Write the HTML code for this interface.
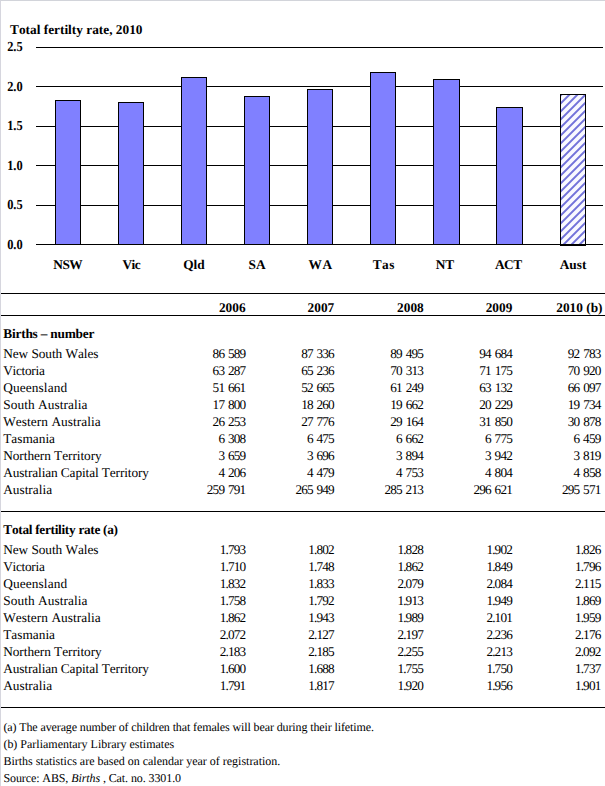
<!DOCTYPE html>
<html><head><meta charset="utf-8"><title>Total fertility rate, 2010</title>
<style>
html,body{margin:0;padding:0;background:#fff;}
body{width:605px;height:786px;position:relative;overflow:hidden;font-family:"Liberation Serif", "Times New Roman", serif;color:#000;}
.frame{position:absolute;left:0;top:0;width:605px;height:786px;box-sizing:border-box;border-top:1px solid #d2d4da;border-left:1px solid #d6d6de;}
.t{position:absolute;white-space:nowrap;color:#000;font-kerning:none;text-rendering:geometricPrecision;}
.r{position:absolute;}
.bar{position:absolute;box-sizing:border-box;border:1px solid #000;background:#8080ff;}
</style></head>
<body>
<div class="frame"></div>
<div class="t" style="top:22.54px;font-size:13.33px;line-height:13.33px;font-weight:bold;left:10.00px;">Total fertilty rate, 2010</div>
<div class="r" style="left:36px;top:47px;width:567px;height:1px;background:#000"></div>
<div class="t" style="top:40.14px;font-size:13.33px;line-height:13.33px;font-weight:bold;right:582.00px;text-align:right;transform:scale(0.93,1.04);transform-origin:100% 50%;">2.5</div>
<div class="r" style="left:36px;top:86px;width:567px;height:1px;background:#000"></div>
<div class="t" style="top:80.14px;font-size:13.33px;line-height:13.33px;font-weight:bold;right:582.00px;text-align:right;transform:scale(0.93,1.04);transform-origin:100% 50%;">2.0</div>
<div class="r" style="left:36px;top:126px;width:567px;height:1px;background:#000"></div>
<div class="t" style="top:119.14px;font-size:13.33px;line-height:13.33px;font-weight:bold;right:582.00px;text-align:right;transform:scale(0.93,1.04);transform-origin:100% 50%;">1.5</div>
<div class="r" style="left:36px;top:165px;width:567px;height:1px;background:#000"></div>
<div class="t" style="top:159.14px;font-size:13.33px;line-height:13.33px;font-weight:bold;right:582.00px;text-align:right;transform:scale(0.93,1.04);transform-origin:100% 50%;">1.0</div>
<div class="r" style="left:36px;top:205px;width:567px;height:1px;background:#000"></div>
<div class="t" style="top:198.14px;font-size:13.33px;line-height:13.33px;font-weight:bold;right:582.00px;text-align:right;transform:scale(0.93,1.04);transform-origin:100% 50%;">0.5</div>
<div class="r" style="left:36px;top:244px;width:567px;height:1px;background:#000"></div>
<div class="t" style="top:238.14px;font-size:13.33px;line-height:13.33px;font-weight:bold;right:582.00px;text-align:right;transform:scale(0.93,1.04);transform-origin:100% 50%;">0.0</div>
<div class="bar" style="left:55px;top:100px;width:26px;height:145px"></div>
<div class="t" style="top:258.14px;font-size:13.33px;line-height:13.33px;font-weight:bold;letter-spacing:-0.500px;left:17.75px;width:100px;text-align:center;">NSW</div>
<div class="bar" style="left:118px;top:102px;width:26px;height:143px"></div>
<div class="t" style="top:258.14px;font-size:13.33px;line-height:13.33px;font-weight:bold;letter-spacing:-0.500px;left:81.25px;width:100px;text-align:center;">Vic</div>
<div class="bar" style="left:181px;top:77px;width:26px;height:168px"></div>
<div class="t" style="top:258.14px;font-size:13.33px;line-height:13.33px;font-weight:bold;left:144.00px;width:100px;text-align:center;">Qld</div>
<div class="bar" style="left:244px;top:96px;width:26px;height:149px"></div>
<div class="t" style="top:258.14px;font-size:13.33px;line-height:13.33px;font-weight:bold;left:207.00px;width:100px;text-align:center;">SA</div>
<div class="bar" style="left:307px;top:89px;width:26px;height:156px"></div>
<div class="t" style="top:258.14px;font-size:13.33px;line-height:13.33px;font-weight:bold;letter-spacing:0.500px;left:270.55px;width:100px;text-align:center;">WA</div>
<div class="bar" style="left:370px;top:72px;width:26px;height:173px"></div>
<div class="t" style="top:258.14px;font-size:13.33px;line-height:13.33px;font-weight:bold;letter-spacing:0.500px;left:333.85px;width:100px;text-align:center;">Tas</div>
<div class="bar" style="left:433px;top:79px;width:27px;height:166px"></div>
<div class="t" style="top:258.14px;font-size:13.33px;line-height:13.33px;font-weight:bold;left:395.00px;width:100px;text-align:center;">NT</div>
<div class="bar" style="left:496px;top:107px;width:27px;height:138px"></div>
<div class="t" style="top:258.14px;font-size:13.33px;line-height:13.33px;font-weight:bold;letter-spacing:-0.500px;left:458.25px;width:100px;text-align:center;">ACT</div>
<svg class="r" style="left:560px;top:94px" width="26" height="152" viewBox="0 0 26 152"><defs><pattern id="hp" patternUnits="userSpaceOnUse" width="8" height="8"><rect width="8" height="8" fill="#f9f9ff"/><path d="M-2.90,-3L-3,-2.90M5.10,-3L-3,5.10M13.10,-3L-3,13.10M21.10,-3L-3,21.10" stroke="#7373da" stroke-width="1.95" fill="none"/></pattern></defs><rect x="0" y="0" width="26" height="152" fill="url(#hp)"/><rect x="0.5" y="0.5" width="25" height="151" fill="none" stroke="#000" stroke-width="1"/><rect x="0" y="150" width="26" height="2" fill="#000"/></svg>
<div class="t" style="top:258.14px;font-size:13.33px;line-height:13.33px;font-weight:bold;left:523.00px;width:100px;text-align:center;">Aust</div>
<div class="r" style="left:1px;top:293px;width:604px;height:1px;background:#000"></div>
<div class="t" style="top:300.64px;font-size:13.33px;line-height:13.33px;font-weight:bold;right:359.40px;text-align:right;">2006</div>
<div class="t" style="top:300.64px;font-size:13.33px;line-height:13.33px;font-weight:bold;right:270.80px;text-align:right;">2007</div>
<div class="t" style="top:300.64px;font-size:13.33px;line-height:13.33px;font-weight:bold;right:181.30px;text-align:right;">2008</div>
<div class="t" style="top:300.64px;font-size:13.33px;line-height:13.33px;font-weight:bold;right:92.70px;text-align:right;">2009</div>
<div class="t" style="top:300.64px;font-size:13.33px;line-height:13.33px;font-weight:bold;right:2.50px;text-align:right;">2010 (b)</div>
<div class="r" style="left:1px;top:315px;width:604px;height:1px;background:#000"></div>
<div class="t" style="top:326.84px;font-size:13.33px;line-height:13.33px;font-weight:bold;letter-spacing:-0.214px;left:3.30px;">Births &ndash; number</div>
<div class="t" style="top:346.84px;font-size:13.33px;line-height:13.33px;letter-spacing:-0.071px;left:3.20px;">New South Wales</div>
<div class="t" style="top:346.90px;font-size:13.25px;line-height:13.25px;letter-spacing:-0.850px;right:359.75px;text-align:right;text-rendering:geometricPrecision;word-spacing:1.3px;">86 589</div>
<div class="t" style="top:346.90px;font-size:13.25px;line-height:13.25px;letter-spacing:-0.850px;right:271.15px;text-align:right;text-rendering:geometricPrecision;word-spacing:1.3px;">87 336</div>
<div class="t" style="top:346.90px;font-size:13.25px;line-height:13.25px;letter-spacing:-0.850px;right:182.05px;text-align:right;text-rendering:geometricPrecision;word-spacing:1.3px;">89 495</div>
<div class="t" style="top:346.90px;font-size:13.25px;line-height:13.25px;letter-spacing:-0.850px;right:93.05px;text-align:right;text-rendering:geometricPrecision;word-spacing:1.3px;">94 684</div>
<div class="t" style="top:346.90px;font-size:13.25px;line-height:13.25px;letter-spacing:-0.850px;right:4.55px;text-align:right;text-rendering:geometricPrecision;word-spacing:1.3px;">92 783</div>
<div class="t" style="top:363.84px;font-size:13.33px;line-height:13.33px;letter-spacing:-0.286px;left:3.20px;">Victoria</div>
<div class="t" style="top:363.90px;font-size:13.25px;line-height:13.25px;letter-spacing:-0.850px;right:359.75px;text-align:right;text-rendering:geometricPrecision;word-spacing:1.3px;">63 287</div>
<div class="t" style="top:363.90px;font-size:13.25px;line-height:13.25px;letter-spacing:-0.850px;right:271.15px;text-align:right;text-rendering:geometricPrecision;word-spacing:1.3px;">65 236</div>
<div class="t" style="top:363.90px;font-size:13.25px;line-height:13.25px;letter-spacing:-0.850px;right:182.05px;text-align:right;text-rendering:geometricPrecision;word-spacing:1.3px;">70 313</div>
<div class="t" style="top:363.90px;font-size:13.25px;line-height:13.25px;letter-spacing:-0.850px;right:93.05px;text-align:right;text-rendering:geometricPrecision;word-spacing:1.3px;">71 175</div>
<div class="t" style="top:363.90px;font-size:13.25px;line-height:13.25px;letter-spacing:-0.850px;right:4.55px;text-align:right;text-rendering:geometricPrecision;word-spacing:1.3px;">70 920</div>
<div class="t" style="top:380.84px;font-size:13.33px;line-height:13.33px;letter-spacing:0.111px;left:3.20px;">Queensland</div>
<div class="t" style="top:380.90px;font-size:13.25px;line-height:13.25px;letter-spacing:-0.850px;right:359.75px;text-align:right;text-rendering:geometricPrecision;word-spacing:1.3px;">51 661</div>
<div class="t" style="top:380.90px;font-size:13.25px;line-height:13.25px;letter-spacing:-0.850px;right:271.15px;text-align:right;text-rendering:geometricPrecision;word-spacing:1.3px;">52 665</div>
<div class="t" style="top:380.90px;font-size:13.25px;line-height:13.25px;letter-spacing:-0.850px;right:182.05px;text-align:right;text-rendering:geometricPrecision;word-spacing:1.3px;">61 249</div>
<div class="t" style="top:380.90px;font-size:13.25px;line-height:13.25px;letter-spacing:-0.850px;right:93.05px;text-align:right;text-rendering:geometricPrecision;word-spacing:1.3px;">63 132</div>
<div class="t" style="top:380.90px;font-size:13.25px;line-height:13.25px;letter-spacing:-0.850px;right:4.55px;text-align:right;text-rendering:geometricPrecision;word-spacing:1.3px;">66 097</div>
<div class="t" style="top:397.84px;font-size:13.33px;line-height:13.33px;letter-spacing:0.071px;left:3.20px;">South Australia</div>
<div class="t" style="top:397.90px;font-size:13.25px;line-height:13.25px;letter-spacing:-0.850px;right:359.75px;text-align:right;text-rendering:geometricPrecision;word-spacing:1.3px;">17 800</div>
<div class="t" style="top:397.90px;font-size:13.25px;line-height:13.25px;letter-spacing:-0.850px;right:271.15px;text-align:right;text-rendering:geometricPrecision;word-spacing:1.3px;">18 260</div>
<div class="t" style="top:397.90px;font-size:13.25px;line-height:13.25px;letter-spacing:-0.850px;right:182.05px;text-align:right;text-rendering:geometricPrecision;word-spacing:1.3px;">19 662</div>
<div class="t" style="top:397.90px;font-size:13.25px;line-height:13.25px;letter-spacing:-0.850px;right:93.05px;text-align:right;text-rendering:geometricPrecision;word-spacing:1.3px;">20 229</div>
<div class="t" style="top:397.90px;font-size:13.25px;line-height:13.25px;letter-spacing:-0.850px;right:4.55px;text-align:right;text-rendering:geometricPrecision;word-spacing:1.3px;">19 734</div>
<div class="t" style="top:414.84px;font-size:13.33px;line-height:13.33px;letter-spacing:0.063px;left:3.20px;">Western Australia</div>
<div class="t" style="top:414.90px;font-size:13.25px;line-height:13.25px;letter-spacing:-0.850px;right:359.75px;text-align:right;text-rendering:geometricPrecision;word-spacing:1.3px;">26 253</div>
<div class="t" style="top:414.90px;font-size:13.25px;line-height:13.25px;letter-spacing:-0.850px;right:271.15px;text-align:right;text-rendering:geometricPrecision;word-spacing:1.3px;">27 776</div>
<div class="t" style="top:414.90px;font-size:13.25px;line-height:13.25px;letter-spacing:-0.850px;right:182.05px;text-align:right;text-rendering:geometricPrecision;word-spacing:1.3px;">29 164</div>
<div class="t" style="top:414.90px;font-size:13.25px;line-height:13.25px;letter-spacing:-0.850px;right:93.05px;text-align:right;text-rendering:geometricPrecision;word-spacing:1.3px;">31 850</div>
<div class="t" style="top:414.90px;font-size:13.25px;line-height:13.25px;letter-spacing:-0.850px;right:4.55px;text-align:right;text-rendering:geometricPrecision;word-spacing:1.3px;">30 878</div>
<div class="t" style="top:431.84px;font-size:13.33px;line-height:13.33px;left:3.20px;">Tasmania</div>
<div class="t" style="top:431.90px;font-size:13.25px;line-height:13.25px;letter-spacing:-0.850px;right:359.75px;text-align:right;text-rendering:geometricPrecision;word-spacing:1.3px;">6 308</div>
<div class="t" style="top:431.90px;font-size:13.25px;line-height:13.25px;letter-spacing:-0.850px;right:271.15px;text-align:right;text-rendering:geometricPrecision;word-spacing:1.3px;">6 475</div>
<div class="t" style="top:431.90px;font-size:13.25px;line-height:13.25px;letter-spacing:-0.850px;right:182.05px;text-align:right;text-rendering:geometricPrecision;word-spacing:1.3px;">6 662</div>
<div class="t" style="top:431.90px;font-size:13.25px;line-height:13.25px;letter-spacing:-0.850px;right:93.05px;text-align:right;text-rendering:geometricPrecision;word-spacing:1.3px;">6 775</div>
<div class="t" style="top:431.90px;font-size:13.25px;line-height:13.25px;letter-spacing:-0.850px;right:4.55px;text-align:right;text-rendering:geometricPrecision;word-spacing:1.3px;">6 459</div>
<div class="t" style="top:448.84px;font-size:13.33px;line-height:13.33px;letter-spacing:-0.059px;left:3.20px;">Northern Territory</div>
<div class="t" style="top:448.90px;font-size:13.25px;line-height:13.25px;letter-spacing:-0.850px;right:359.75px;text-align:right;text-rendering:geometricPrecision;word-spacing:1.3px;">3 659</div>
<div class="t" style="top:448.90px;font-size:13.25px;line-height:13.25px;letter-spacing:-0.850px;right:271.15px;text-align:right;text-rendering:geometricPrecision;word-spacing:1.3px;">3 696</div>
<div class="t" style="top:448.90px;font-size:13.25px;line-height:13.25px;letter-spacing:-0.850px;right:182.05px;text-align:right;text-rendering:geometricPrecision;word-spacing:1.3px;">3 894</div>
<div class="t" style="top:448.90px;font-size:13.25px;line-height:13.25px;letter-spacing:-0.850px;right:93.05px;text-align:right;text-rendering:geometricPrecision;word-spacing:1.3px;">3 942</div>
<div class="t" style="top:448.90px;font-size:13.25px;line-height:13.25px;letter-spacing:-0.850px;right:4.55px;text-align:right;text-rendering:geometricPrecision;word-spacing:1.3px;">3 819</div>
<div class="t" style="top:465.84px;font-size:13.33px;line-height:13.33px;letter-spacing:-0.111px;left:3.20px;">Australian Capital Territory</div>
<div class="t" style="top:465.90px;font-size:13.25px;line-height:13.25px;letter-spacing:-0.850px;right:359.75px;text-align:right;text-rendering:geometricPrecision;word-spacing:1.3px;">4 206</div>
<div class="t" style="top:465.90px;font-size:13.25px;line-height:13.25px;letter-spacing:-0.850px;right:271.15px;text-align:right;text-rendering:geometricPrecision;word-spacing:1.3px;">4 479</div>
<div class="t" style="top:465.90px;font-size:13.25px;line-height:13.25px;letter-spacing:-0.850px;right:182.05px;text-align:right;text-rendering:geometricPrecision;word-spacing:1.3px;">4 753</div>
<div class="t" style="top:465.90px;font-size:13.25px;line-height:13.25px;letter-spacing:-0.850px;right:93.05px;text-align:right;text-rendering:geometricPrecision;word-spacing:1.3px;">4 804</div>
<div class="t" style="top:465.90px;font-size:13.25px;line-height:13.25px;letter-spacing:-0.850px;right:4.55px;text-align:right;text-rendering:geometricPrecision;word-spacing:1.3px;">4 858</div>
<div class="t" style="top:482.84px;font-size:13.33px;line-height:13.33px;left:3.20px;">Australia</div>
<div class="t" style="top:482.90px;font-size:13.25px;line-height:13.25px;letter-spacing:-0.850px;right:359.75px;text-align:right;text-rendering:geometricPrecision;word-spacing:1.3px;">259 791</div>
<div class="t" style="top:482.90px;font-size:13.25px;line-height:13.25px;letter-spacing:-0.850px;right:271.15px;text-align:right;text-rendering:geometricPrecision;word-spacing:1.3px;">265 949</div>
<div class="t" style="top:482.90px;font-size:13.25px;line-height:13.25px;letter-spacing:-0.850px;right:182.05px;text-align:right;text-rendering:geometricPrecision;word-spacing:1.3px;">285 213</div>
<div class="t" style="top:482.90px;font-size:13.25px;line-height:13.25px;letter-spacing:-0.850px;right:93.05px;text-align:right;text-rendering:geometricPrecision;word-spacing:1.3px;">296 621</div>
<div class="t" style="top:482.90px;font-size:13.25px;line-height:13.25px;letter-spacing:-0.850px;right:4.55px;text-align:right;text-rendering:geometricPrecision;word-spacing:1.3px;">295 571</div>
<div class="r" style="left:1px;top:511px;width:604px;height:1px;background:#000"></div>
<div class="t" style="top:522.94px;font-size:13.33px;line-height:13.33px;font-weight:bold;letter-spacing:-0.304px;left:3.30px;">Total fertility rate (a)</div>
<div class="t" style="top:542.84px;font-size:13.33px;line-height:13.33px;letter-spacing:-0.071px;left:3.20px;">New South Wales</div>
<div class="t" style="top:542.90px;font-size:13.25px;line-height:13.25px;letter-spacing:-0.850px;right:359.75px;text-align:right;text-rendering:geometricPrecision;word-spacing:1.3px;">1.793</div>
<div class="t" style="top:542.90px;font-size:13.25px;line-height:13.25px;letter-spacing:-0.850px;right:271.15px;text-align:right;text-rendering:geometricPrecision;word-spacing:1.3px;">1.802</div>
<div class="t" style="top:542.90px;font-size:13.25px;line-height:13.25px;letter-spacing:-0.850px;right:182.05px;text-align:right;text-rendering:geometricPrecision;word-spacing:1.3px;">1.828</div>
<div class="t" style="top:542.90px;font-size:13.25px;line-height:13.25px;letter-spacing:-0.850px;right:93.05px;text-align:right;text-rendering:geometricPrecision;word-spacing:1.3px;">1.902</div>
<div class="t" style="top:542.90px;font-size:13.25px;line-height:13.25px;letter-spacing:-0.850px;right:4.55px;text-align:right;text-rendering:geometricPrecision;word-spacing:1.3px;">1.826</div>
<div class="t" style="top:559.84px;font-size:13.33px;line-height:13.33px;letter-spacing:-0.286px;left:3.20px;">Victoria</div>
<div class="t" style="top:559.90px;font-size:13.25px;line-height:13.25px;letter-spacing:-0.850px;right:359.75px;text-align:right;text-rendering:geometricPrecision;word-spacing:1.3px;">1.710</div>
<div class="t" style="top:559.90px;font-size:13.25px;line-height:13.25px;letter-spacing:-0.850px;right:271.15px;text-align:right;text-rendering:geometricPrecision;word-spacing:1.3px;">1.748</div>
<div class="t" style="top:559.90px;font-size:13.25px;line-height:13.25px;letter-spacing:-0.850px;right:182.05px;text-align:right;text-rendering:geometricPrecision;word-spacing:1.3px;">1.862</div>
<div class="t" style="top:559.90px;font-size:13.25px;line-height:13.25px;letter-spacing:-0.850px;right:93.05px;text-align:right;text-rendering:geometricPrecision;word-spacing:1.3px;">1.849</div>
<div class="t" style="top:559.90px;font-size:13.25px;line-height:13.25px;letter-spacing:-0.850px;right:4.55px;text-align:right;text-rendering:geometricPrecision;word-spacing:1.3px;">1.796</div>
<div class="t" style="top:576.84px;font-size:13.33px;line-height:13.33px;letter-spacing:0.111px;left:3.20px;">Queensland</div>
<div class="t" style="top:576.90px;font-size:13.25px;line-height:13.25px;letter-spacing:-0.850px;right:359.75px;text-align:right;text-rendering:geometricPrecision;word-spacing:1.3px;">1.832</div>
<div class="t" style="top:576.90px;font-size:13.25px;line-height:13.25px;letter-spacing:-0.850px;right:271.15px;text-align:right;text-rendering:geometricPrecision;word-spacing:1.3px;">1.833</div>
<div class="t" style="top:576.90px;font-size:13.25px;line-height:13.25px;letter-spacing:-0.850px;right:182.05px;text-align:right;text-rendering:geometricPrecision;word-spacing:1.3px;">2.079</div>
<div class="t" style="top:576.90px;font-size:13.25px;line-height:13.25px;letter-spacing:-0.850px;right:93.05px;text-align:right;text-rendering:geometricPrecision;word-spacing:1.3px;">2.084</div>
<div class="t" style="top:576.90px;font-size:13.25px;line-height:13.25px;letter-spacing:-0.850px;right:4.55px;text-align:right;text-rendering:geometricPrecision;word-spacing:1.3px;">2.115</div>
<div class="t" style="top:593.84px;font-size:13.33px;line-height:13.33px;letter-spacing:0.071px;left:3.20px;">South Australia</div>
<div class="t" style="top:593.90px;font-size:13.25px;line-height:13.25px;letter-spacing:-0.850px;right:359.75px;text-align:right;text-rendering:geometricPrecision;word-spacing:1.3px;">1.758</div>
<div class="t" style="top:593.90px;font-size:13.25px;line-height:13.25px;letter-spacing:-0.850px;right:271.15px;text-align:right;text-rendering:geometricPrecision;word-spacing:1.3px;">1.792</div>
<div class="t" style="top:593.90px;font-size:13.25px;line-height:13.25px;letter-spacing:-0.850px;right:182.05px;text-align:right;text-rendering:geometricPrecision;word-spacing:1.3px;">1.913</div>
<div class="t" style="top:593.90px;font-size:13.25px;line-height:13.25px;letter-spacing:-0.850px;right:93.05px;text-align:right;text-rendering:geometricPrecision;word-spacing:1.3px;">1.949</div>
<div class="t" style="top:593.90px;font-size:13.25px;line-height:13.25px;letter-spacing:-0.850px;right:4.55px;text-align:right;text-rendering:geometricPrecision;word-spacing:1.3px;">1.869</div>
<div class="t" style="top:610.84px;font-size:13.33px;line-height:13.33px;letter-spacing:0.063px;left:3.20px;">Western Australia</div>
<div class="t" style="top:610.90px;font-size:13.25px;line-height:13.25px;letter-spacing:-0.850px;right:359.75px;text-align:right;text-rendering:geometricPrecision;word-spacing:1.3px;">1.862</div>
<div class="t" style="top:610.90px;font-size:13.25px;line-height:13.25px;letter-spacing:-0.850px;right:271.15px;text-align:right;text-rendering:geometricPrecision;word-spacing:1.3px;">1.943</div>
<div class="t" style="top:610.90px;font-size:13.25px;line-height:13.25px;letter-spacing:-0.850px;right:182.05px;text-align:right;text-rendering:geometricPrecision;word-spacing:1.3px;">1.989</div>
<div class="t" style="top:610.90px;font-size:13.25px;line-height:13.25px;letter-spacing:-0.850px;right:93.05px;text-align:right;text-rendering:geometricPrecision;word-spacing:1.3px;">2.101</div>
<div class="t" style="top:610.90px;font-size:13.25px;line-height:13.25px;letter-spacing:-0.850px;right:4.55px;text-align:right;text-rendering:geometricPrecision;word-spacing:1.3px;">1.959</div>
<div class="t" style="top:627.84px;font-size:13.33px;line-height:13.33px;left:3.20px;">Tasmania</div>
<div class="t" style="top:627.90px;font-size:13.25px;line-height:13.25px;letter-spacing:-0.850px;right:359.75px;text-align:right;text-rendering:geometricPrecision;word-spacing:1.3px;">2.072</div>
<div class="t" style="top:627.90px;font-size:13.25px;line-height:13.25px;letter-spacing:-0.850px;right:271.15px;text-align:right;text-rendering:geometricPrecision;word-spacing:1.3px;">2.127</div>
<div class="t" style="top:627.90px;font-size:13.25px;line-height:13.25px;letter-spacing:-0.850px;right:182.05px;text-align:right;text-rendering:geometricPrecision;word-spacing:1.3px;">2.197</div>
<div class="t" style="top:627.90px;font-size:13.25px;line-height:13.25px;letter-spacing:-0.850px;right:93.05px;text-align:right;text-rendering:geometricPrecision;word-spacing:1.3px;">2.236</div>
<div class="t" style="top:627.90px;font-size:13.25px;line-height:13.25px;letter-spacing:-0.850px;right:4.55px;text-align:right;text-rendering:geometricPrecision;word-spacing:1.3px;">2.176</div>
<div class="t" style="top:644.84px;font-size:13.33px;line-height:13.33px;letter-spacing:-0.059px;left:3.20px;">Northern Territory</div>
<div class="t" style="top:644.90px;font-size:13.25px;line-height:13.25px;letter-spacing:-0.850px;right:359.75px;text-align:right;text-rendering:geometricPrecision;word-spacing:1.3px;">2.183</div>
<div class="t" style="top:644.90px;font-size:13.25px;line-height:13.25px;letter-spacing:-0.850px;right:271.15px;text-align:right;text-rendering:geometricPrecision;word-spacing:1.3px;">2.185</div>
<div class="t" style="top:644.90px;font-size:13.25px;line-height:13.25px;letter-spacing:-0.850px;right:182.05px;text-align:right;text-rendering:geometricPrecision;word-spacing:1.3px;">2.255</div>
<div class="t" style="top:644.90px;font-size:13.25px;line-height:13.25px;letter-spacing:-0.850px;right:93.05px;text-align:right;text-rendering:geometricPrecision;word-spacing:1.3px;">2.213</div>
<div class="t" style="top:644.90px;font-size:13.25px;line-height:13.25px;letter-spacing:-0.850px;right:4.55px;text-align:right;text-rendering:geometricPrecision;word-spacing:1.3px;">2.092</div>
<div class="t" style="top:661.84px;font-size:13.33px;line-height:13.33px;letter-spacing:-0.111px;left:3.20px;">Australian Capital Territory</div>
<div class="t" style="top:661.90px;font-size:13.25px;line-height:13.25px;letter-spacing:-0.850px;right:359.75px;text-align:right;text-rendering:geometricPrecision;word-spacing:1.3px;">1.600</div>
<div class="t" style="top:661.90px;font-size:13.25px;line-height:13.25px;letter-spacing:-0.850px;right:271.15px;text-align:right;text-rendering:geometricPrecision;word-spacing:1.3px;">1.688</div>
<div class="t" style="top:661.90px;font-size:13.25px;line-height:13.25px;letter-spacing:-0.850px;right:182.05px;text-align:right;text-rendering:geometricPrecision;word-spacing:1.3px;">1.755</div>
<div class="t" style="top:661.90px;font-size:13.25px;line-height:13.25px;letter-spacing:-0.850px;right:93.05px;text-align:right;text-rendering:geometricPrecision;word-spacing:1.3px;">1.750</div>
<div class="t" style="top:661.90px;font-size:13.25px;line-height:13.25px;letter-spacing:-0.850px;right:4.55px;text-align:right;text-rendering:geometricPrecision;word-spacing:1.3px;">1.737</div>
<div class="t" style="top:678.84px;font-size:13.33px;line-height:13.33px;left:3.20px;">Australia</div>
<div class="t" style="top:678.90px;font-size:13.25px;line-height:13.25px;letter-spacing:-0.850px;right:359.75px;text-align:right;text-rendering:geometricPrecision;word-spacing:1.3px;">1.791</div>
<div class="t" style="top:678.90px;font-size:13.25px;line-height:13.25px;letter-spacing:-0.850px;right:271.15px;text-align:right;text-rendering:geometricPrecision;word-spacing:1.3px;">1.817</div>
<div class="t" style="top:678.90px;font-size:13.25px;line-height:13.25px;letter-spacing:-0.850px;right:182.05px;text-align:right;text-rendering:geometricPrecision;word-spacing:1.3px;">1.920</div>
<div class="t" style="top:678.90px;font-size:13.25px;line-height:13.25px;letter-spacing:-0.850px;right:93.05px;text-align:right;text-rendering:geometricPrecision;word-spacing:1.3px;">1.956</div>
<div class="t" style="top:678.90px;font-size:13.25px;line-height:13.25px;letter-spacing:-0.850px;right:4.55px;text-align:right;text-rendering:geometricPrecision;word-spacing:1.3px;">1.901</div>
<div class="r" style="left:1px;top:707px;width:604px;height:1px;background:#000"></div>
<div class="t" style="top:721.05px;font-size:12px;line-height:12px;letter-spacing:-0.114px;left:3.40px;">(a) The average number of children that females will bear during their lifetime.</div>
<div class="t" style="top:737.92px;font-size:12px;line-height:12px;letter-spacing:-0.006px;left:3.40px;">(b) Parliamentary Library estimates</div>
<div class="t" style="top:754.79px;font-size:12px;line-height:12px;letter-spacing:-0.011px;left:3.40px;">Births statistics are based on calendar year of registration.</div>
<div class="t" style="top:771.66px;font-size:12px;line-height:12px;letter-spacing:-0.093px;left:3.40px;">Source: ABS, <i>Births</i> , Cat. no. 3301.0</div>
</body></html>
